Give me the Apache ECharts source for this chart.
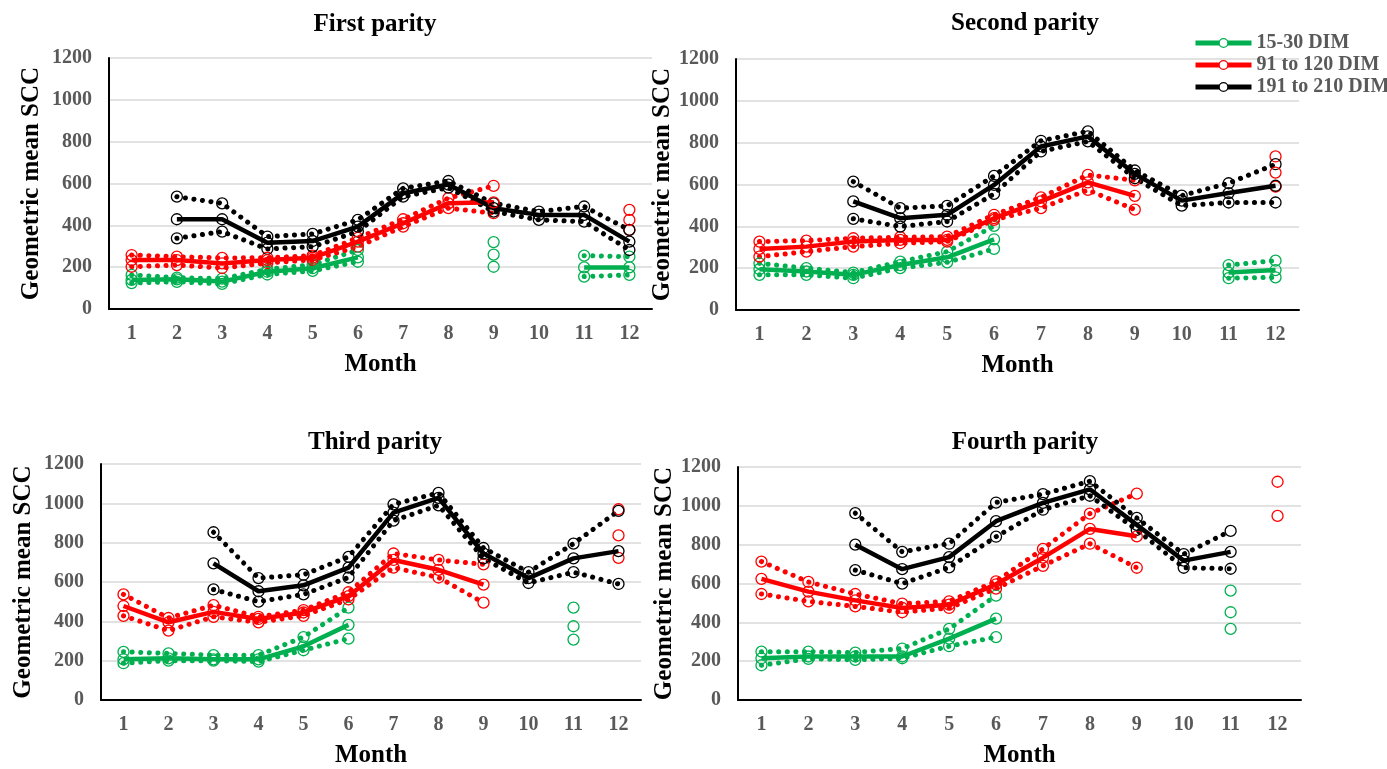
<!DOCTYPE html>
<html>
<head>
<meta charset="utf-8">
<title>Geometric mean SCC by month</title>
<script src="https://cdn.jsdelivr.net/npm/echarts@6/dist/echarts.min.js"></script>
<style>
  html, body { margin: 0; padding: 0; background: #fff; }
  #main { width: 1387px; height: 769px; }
</style>
</head>
<body>
<div id="main"></div>
<script>
var months = ['1', '2', '3', '4', '5', '6', '7', '8', '9', '10', '11', '12'];
var panelTitles = ['First parity', 'Second parity', 'Third parity', 'Fourth parity'];
var groupNames = ['15-30 DIM', '91 to 120 DIM', '191 to 210 DIM'];

// First parity
var p1GreenUp   = [163, 150, 145, 190, 212, 282, null, null, 320, null, 255, 250];
var p1GreenMean = [139, 142, 131, 178, 195, 247, null, null, 260, null, 199, 199];
var p1GreenLow  = [124, 130, 120, 165, 182, 226, null, null, 202, null, 155, 163];
var p1RedUp     = [258, 250, 244, 245, 255, 340, 429, 530, 589, null, null, 474];
var p1RedMean   = [234, 234, 218, 234, 245, 322, 410, 505, 510, null, null, 426];
var p1RedLow    = [202, 210, 196, 220, 235, 298, 394, 482, 458, null, null, 378];
var p1BlackUp   = [null, 537, 505, 346, 359, 426, 577, 612, 505, 466, 490, 378];
var p1BlackMean = [null, 429, 429, 317, 325, 394, 553, 595, 482, 450, 450, 322];
var p1BlackLow  = [null, 338, 370, 287, 298, 370, 537, 580, 466, 426, 418, 282];

// Second parity
var p2GreenUp   = [223, 200, 179, 231, 279, 402, null, null, null, null, 215, 236];
var p2GreenMean = [195, 184, 168, 215, 252, 338, null, null, null, null, 179, 191];
var p2GreenLow  = [168, 168, 152, 200, 228, 292, null, null, null, null, 152, 156];
var p2RedUp     = [327, 332, 343, 348, 351, 455, 538, 646, 620, null, null, 734];
var p2RedMean   = [292, 303, 327, 335, 335, 439, 519, 610, 546, null, null, 657];
var p2RedLow    = [255, 279, 303, 319, 327, 431, 487, 574, 480, null, null, 590];
var p2BlackUp   = [null, null, 614, 487, 498, 641, 809, 854, 667, 547, 606, 697];
var p2BlackMean = [null, null, 519, 439, 455, 598, 782, 830, 651, 523, 559, 594];
var p2BlackLow  = [null, null, 436, 399, 423, 555, 758, 806, 630, 499, 514, 514];

// Third parity
var p3GreenUp   = [245, 237, 228, 228, 320, 470, null, null, null, null, 470, null];
var p3GreenMean = [207, 212, 207, 207, 273, 382, null, null, null, null, 375, null];
var p3GreenLow  = [187, 200, 200, 195, 253, 312, null, null, null, null, 307, null];
var p3RedUp     = [537, 417, 482, 423, 457, 548, 745, 712, 690, null, null, 970];
var p3RedMean   = [478, 395, 448, 412, 445, 528, 712, 662, 587, null, null, 837];
var p3RedLow    = [428, 353, 423, 395, 428, 512, 673, 623, 495, null, null, 723];
var p3BlackUp   = [null, null, 853, 620, 637, 728, 995, 1053, 773, 650, 795, 962];
var p3BlackMean = [null, null, 695, 553, 583, 673, 953, 1028, 745, 620, 720, 757];
var p3BlackLow  = [null, null, 562, 500, 537, 623, 912, 990, 720, 595, 650, 590];

// Fourth parity
var p4GreenUp   = [249, 249, 244, 265, 366, 538, null, null, null, null, 563, null];
var p4GreenMean = [215, 224, 224, 224, 316, 419, null, null, null, null, 452, null];
var p4GreenLow  = [179, 212, 207, 215, 277, 324, null, null, null, null, 366, null];
var p4RedUp     = [713, 608, 546, 496, 508, 611, 778, 960, 1063, null, null, 1124];
var p4RedMean   = [624, 558, 513, 474, 491, 596, 733, 881, 843, null, null, null];
var p4RedLow    = [546, 508, 482, 452, 474, 574, 691, 805, 681, null, null, 948];
var p4BlackUp   = [null, null, 962, 763, 805, 1017, 1060, 1127, 938, 751, 871, null];
var p4BlackMean = [null, null, 800, 674, 736, 921, 1015, 1085, 902, 718, 763, null];
var p4BlackLow  = [null, null, 669, 599, 683, 841, 980, 1052, 876, 681, 676, null];

var panels = [
  [[p1GreenUp, p1GreenMean, p1GreenLow], [p1RedUp, p1RedMean, p1RedLow], [p1BlackUp, p1BlackMean, p1BlackLow]],
  [[p2GreenUp, p2GreenMean, p2GreenLow], [p2RedUp, p2RedMean, p2RedLow], [p2BlackUp, p2BlackMean, p2BlackLow]],
  [[p3GreenUp, p3GreenMean, p3GreenLow], [p3RedUp, p3RedMean, p3RedLow], [p3BlackUp, p3BlackMean, p3BlackLow]],
  [[p4GreenUp, p4GreenMean, p4GreenLow], [p4RedUp, p4RedMean, p4RedLow], [p4BlackUp, p4BlackMean, p4BlackLow]]
];

var colors = ['#00B050', '#FF0000', '#000000'];
var serif = 'Liberation Serif, Times New Roman, serif';

// plot boxes (left, top, width, height) and axis name gaps
var boxes = [
  { left: 109, top: 58, width: 543, height: 251, titleX: 370, titleY: 7, yGap: 65 },
  { left: 736, top: 59, width: 563, height: 251, titleX: 1020, titleY: 6, yGap: 61 },
  { left: 101, top: 464, width: 540, height: 240, titleX: 370, titleY: 425, yGap: 65 },
  { left: 738, top: 467, width: 563, height: 238, titleX: 1020, titleY: 425, yGap: 59 }
];

var grids = [], xAxes = [], yAxes = [], titles = [], series = [];

boxes.forEach(function (b, i) {
  grids.push({ left: b.left, top: b.top, width: b.width, height: b.height });
  titles.push({
    text: panelTitles[i], left: b.titleX, top: b.titleY, textAlign: 'center',
    textStyle: { fontFamily: serif, fontWeight: 'bold', fontSize: 25, color: '#000' }
  });
  xAxes.push({
    type: 'category', gridIndex: i, data: months, boundaryGap: true,
    name: 'Month', nameLocation: 'middle', nameGap: 43,
    nameTextStyle: { fontFamily: serif, fontWeight: 'bold', fontSize: 25, color: '#000' },
    axisLine: { lineStyle: { color: '#000', width: 2 } },
    axisTick: { show: false },
    axisLabel: { fontFamily: serif, fontWeight: 'bold', fontSize: 20, color: '#595959', margin: 15 }
  });
  yAxes.push({
    type: 'value', gridIndex: i, min: 0, max: 1200, interval: 200,
    name: 'Geometric mean SCC', nameLocation: 'middle', nameGap: b.yGap, nameRotate: 90,
    nameTextStyle: { fontFamily: serif, fontWeight: 'bold', fontSize: 25, color: '#000' },
    axisLine: { show: true, lineStyle: { color: '#000', width: 2 } },
    axisTick: { show: false },
    axisLabel: {
      fontFamily: serif, fontWeight: 'bold', fontSize: 20, color: '#595959', margin: 17,
      formatter: function (v) { return String(v); }
    },
    splitLine: { lineStyle: { color: '#d9d9d9', width: 1.5 } }
  });

  panels[i].forEach(function (group, g) {
    var c = colors[g];
    var kinds = ['upper', 'mean', 'lower'];
    group.forEach(function (arr, k) {
      var isMean = k === 1;
      series.push({
        type: 'line',
        name: isMean ? groupNames[g] : groupNames[g] + ' ' + kinds[k],
        xAxisIndex: i, yAxisIndex: i,
        data: arr,
        symbol: 'circle', symbolSize: 11, showAllSymbol: true,
        connectNulls: false,
        itemStyle: { color: 'rgba(255,255,255,0)', borderColor: c, borderWidth: 1.3 },
        lineStyle: isMean
          ? { color: c, width: 4.5 }
          : { color: c, width: 5, type: [0.1, 8.5], cap: 'round' },
        z: isMean ? 3 : 2,
        emphasis: { disabled: true },
        animation: false
      });
    });
  });
});

var chart = echarts.init(document.getElementById('main'));
chart.setOption({
  backgroundColor: '#fff',
  animation: false,
  title: titles,
  legend: {
    data: groupNames.map(function (n, g) {
      return { name: n, itemStyle: { color: '#fff', borderColor: colors[g], borderWidth: 1.3 } };
    }),
    orient: 'vertical', left: 1188, top: 28, itemGap: 2,
    itemWidth: 56, itemHeight: 11,
    lineStyle: { width: 5 },
    textStyle: { fontFamily: serif, fontWeight: 'bold', fontSize: 20, color: '#595959' }
  },
  grid: grids,
  xAxis: xAxes,
  yAxis: yAxes,
  series: series
});
</script>
</body>
</html>
